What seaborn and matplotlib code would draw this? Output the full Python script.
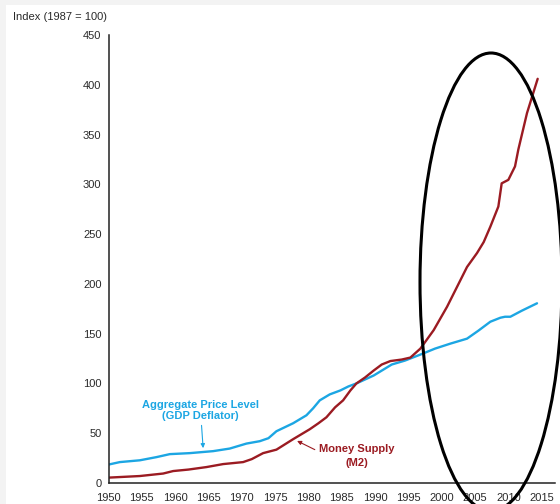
import matplotlib
matplotlib.use("Agg")
import matplotlib.pyplot as plt
from matplotlib.patches import Ellipse, Rectangle
import seaborn as sns
import pandas as pd

# Aggregate price level (GDP deflator), index 1987 = 100
gdp_years = [1950, 1951.7, 1954.7, 1957.2, 1959.2, 1962.2, 1965.7, 1968.2, 1970.7,
             1972.7, 1974.0, 1975.2, 1977.7, 1979.7, 1980.7, 1981.7, 1983.2, 1984.8,
             1986.0, 1987.2, 1989.8, 1992.5, 1994.5, 1996.8, 1999.0, 2001.3, 2003.8,
             2005.5, 2007.3, 2008.8, 2009.5, 2010.3, 2012.0, 2014.3]
gdp_index = [18.5, 21, 22.8, 26, 29, 30, 32, 34.6, 39.6,
             42, 45, 52, 60, 68, 75, 83, 89, 93,
             97, 100, 108, 119, 123, 129, 135, 140, 145,
             153, 162, 166, 167, 167, 173, 180.5]

# Money supply (M2), index 1987 = 100
m2_years = [1950, 1954.7, 1958.2, 1959.7, 1962.0, 1964.7, 1967.2, 1970.2, 1971.5,
            1973.2, 1975.2, 1977.7, 1980.2, 1981.5, 1982.7, 1984.0, 1985.2, 1986.3,
            1987.2, 1988.5, 1989.8, 1991.0, 1992.3, 1994.0, 1995.3, 1996.8, 1998.8,
            2000.8, 2002.3, 2003.8, 2005.3, 2006.3, 2007.3, 2008.5, 2009.0, 2010.0,
            2011.0, 2011.5, 2012.8, 2014.4]
m2_index = [5.4, 7, 9.5, 12, 13.5, 16, 19, 21, 24,
            30, 33.5, 44, 54, 60, 66, 76, 83, 93,
            100, 106, 113, 119, 122.5, 124, 126, 135, 153.6,
            177, 197, 217, 231, 242, 257.5, 277.7, 301, 304.5,
            318, 335, 371.6, 406]

x_ticks = list(range(1950, 2016, 5))
y_ticks = list(range(0, 451, 50))

BLUE = "#1ca6e3"
RED = "#9b1b22"

sns.set_style("white")
plt.rcParams["font.family"] = ["Liberation Sans", "DejaVu Sans"]

fig = plt.figure(figsize=(5.6, 5.04), dpi=100)
fig.patch.set_facecolor("#f3f3f3")
fig.add_artist(Rectangle((6 / 560, 0), 1 - 6 / 560, 1 - 5 / 504,
                         transform=fig.transFigure, facecolor="white",
                         edgecolor="none", zorder=0))

ax = fig.add_axes([108.5 / 560, 1 - 483 / 504, (555 - 108.5) / 560, (483 - 35) / 504])
ax.set_facecolor("none")

gdp_df = pd.DataFrame({"year": gdp_years, "index": gdp_index})
m2_df = pd.DataFrame({"year": m2_years, "index": m2_index})

sns.lineplot(data=gdp_df, x="year", y="index", color=BLUE, lw=1.7,
             estimator=None, sort=False, ax=ax)
sns.lineplot(data=m2_df, x="year", y="index", color=RED, lw=1.7,
             estimator=None, sort=False, ax=ax)

ax.set_xlim(1950, 2017)
ax.set_ylim(0, 450)
ax.set_xticks(x_ticks)
ax.set_yticks(y_ticks)
ax.set_xlabel("")
ax.set_ylabel("")
for side in ("top", "right"):
    ax.spines[side].set_visible(False)
for side in ("left", "bottom"):
    ax.spines[side].set_color("#222222")
    ax.spines[side].set_linewidth(1.1)
ax.tick_params(axis="both", direction="in", length=5, width=1.0,
               color="#222222", labelsize=8, labelcolor="#2a2a2a")
ax.tick_params(axis="y", pad=5)
ax.tick_params(axis="x", pad=7)

ax.annotate("Aggregate Price Level\n(GDP Deflator)", xy=(1964.2, 35), xytext=(1963.8, 73),
            ha="center", va="center", fontsize=8, fontweight="bold", color=BLUE,
            linespacing=1.1,
            arrowprops=dict(arrowstyle="-|>", color=BLUE, lw=0.8,
                            mutation_scale=6, shrinkA=1, shrinkB=0))
ax.annotate("Money Supply\n(M2)", xy=(1978.3, 42.3), xytext=(1987.3, 27),
            ha="center", va="center", fontsize=8, fontweight="bold", color=RED,
            linespacing=1.45,
            arrowprops=dict(arrowstyle="-|>", color=RED, lw=0.8,
                            mutation_scale=6, shrinkA=1, shrinkB=0,
                            relpos=(0.0, 0.68)))

fig.text(13 / 560, 1 - 17 / 504, "Index (1987 = 100)", fontsize=8,
         color="#2a2a2a", ha="left", va="center")

fig.add_artist(Ellipse((491 / 560, 1 - 282 / 504), width=142 / 560, height=458 / 504,
                       transform=fig.transFigure, fill=False, edgecolor="black",
                       lw=2.2, zorder=5))

fig.savefig("out.png", dpi=100)
